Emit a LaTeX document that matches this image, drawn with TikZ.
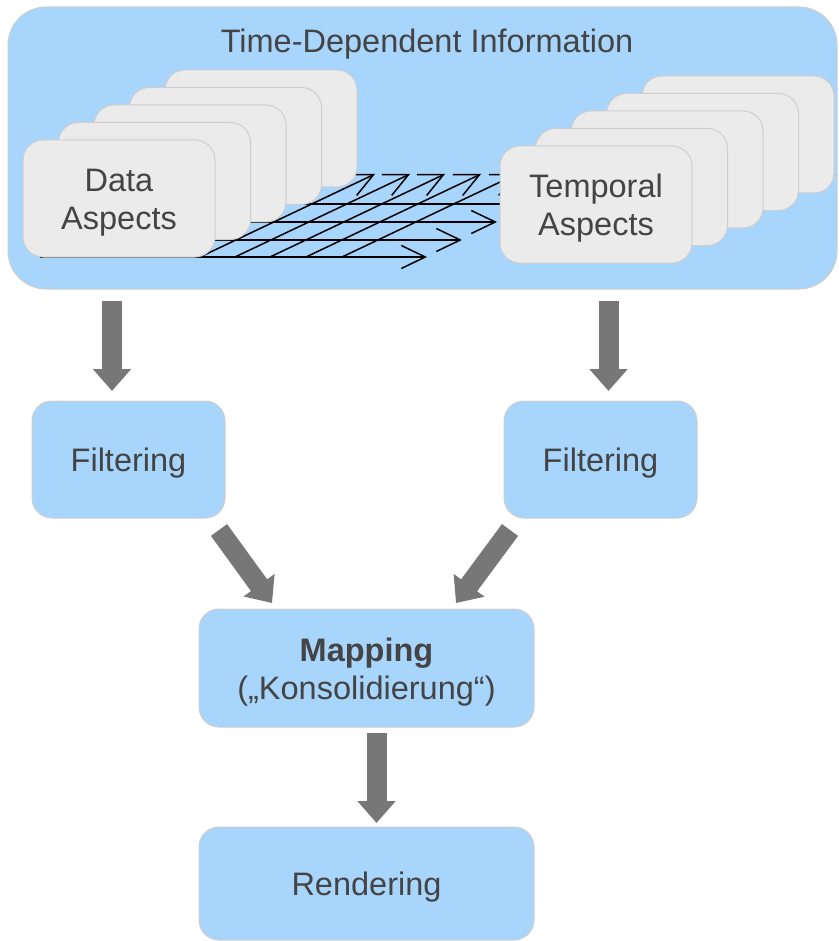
\documentclass[tikz,border=0pt]{standalone}
\usepackage{fontspec}
\setmainfont{Liberation Sans}
\usetikzlibrary{arrows.meta,calc}
\definecolor{boxblue}{RGB}{168,213,252}
\definecolor{cardgray}{RGB}{235,235,235}
\definecolor{edgegray}{RGB}{206,206,206}
\definecolor{arrgray}{RGB}{119,119,119}
\definecolor{txt}{RGB}{68,68,68}
\newcommand\lowtxt[1]{\raisebox{-4.5pt}[\height][\depth]{\begin{tabular}{@{}c@{}}#1\end{tabular}}}
\begin{document}
\begin{tikzpicture}[x=1pt,y=-1pt,
  txtfont/.style={font=\fontsize{32.5}{38}\selectfont, text=txt},
  bluebox/.style={draw=edgegray, fill=boxblue, rounded corners=20pt, line width=1pt, outer sep=0pt, inner sep=0pt, align=center, txtfont},
  card/.style={draw=edgegray, fill=cardgray, rounded corners=20pt, line width=1pt, minimum width=192pt, minimum height=117pt, outer sep=0pt, inner sep=0pt, align=center, txtfont},
  bigarrow/.style={draw=arrgray, line width=20pt, -{Triangle[width=37pt,length=22pt]}},
  thinarrow/.style={draw=black, line width=1.5pt, -{Straight Barb[length=24pt,width=23pt]}},
]
\useasboundingbox (0,0) rectangle (838,941);
% outer container
\node[bluebox, rounded corners=38pt, minimum width=829pt, minimum height=282pt] (outer) at (422.5,148) {};
\node[txtfont, anchor=base] (title) at (427,52.5) {Time-Dependent Information};
% hatching arrows
\foreach \yy/\xe in {257/427,240/462,222/497,204/533}
  \draw[thinarrow] (40,\yy) -- (\xe,\yy);
\foreach \xs in {200,235,270,306,342}
  \draw[thinarrow] (\xs,257) -- ++(175,-83);
% data aspect cards
\foreach \k in {5,4,3,2}
  \node[card] (d\k) at ({119+35.5*(\k-1)},{198.5-17.5*(\k-1)}) {};
\node[card] (d1) at (119,198.5) {\lowtxt{Data\\Aspects}};
% temporal aspect cards
\foreach \k in {5,4,3,2}
  \node[card] (t\k) at ({596+35.5*(\k-1)},{204.5-17.5*(\k-1)}) {};
\node[card] (t1) at (596,204.5) {\lowtxt{Temporal\\Aspects}};
% lower boxes
\node[bluebox, minimum width=193pt, minimum height=117pt] (fl) at (128.5,459.5) {\lowtxt{Filtering}};
\node[bluebox, minimum width=193pt, minimum height=117pt] (fr) at (600.5,459.5) {\lowtxt{Filtering}};
\node[bluebox, minimum width=335pt, minimum height=118pt] (map) at (366.5,668) {\lowtxt{\textbf{Mapping}\\(„Konsolidierung“)}};
\node[bluebox, minimum width=335pt, minimum height=113pt] (ren) at (366.5,883.5) {\lowtxt{Rendering}};
% arrow columns
\coordinate (xa) at (112,0);
\coordinate (xb) at (608.5,0);
\coordinate (xc) at (376.5,0);
\draw[bigarrow, shorten <=12pt, shorten >=10pt] (outer.south -| xa) -- (fl.north -| xa);
\draw[bigarrow, shorten <=12pt, shorten >=10pt] (outer.south -| xb) -- (fr.north -| xb);
\draw[bigarrow] ($(fl.south east)+(-6,12)$) -- ($(map.north west)+(73,-6)$);
\draw[bigarrow] ($(fr.south west)+(6,12)$) -- ($(map.north east)+(-78,-6)$);
\draw[bigarrow, shorten <=6pt, shorten >=4pt] (map.south -| xc) -- (ren.north -| xc);
\end{tikzpicture}
\end{document}
